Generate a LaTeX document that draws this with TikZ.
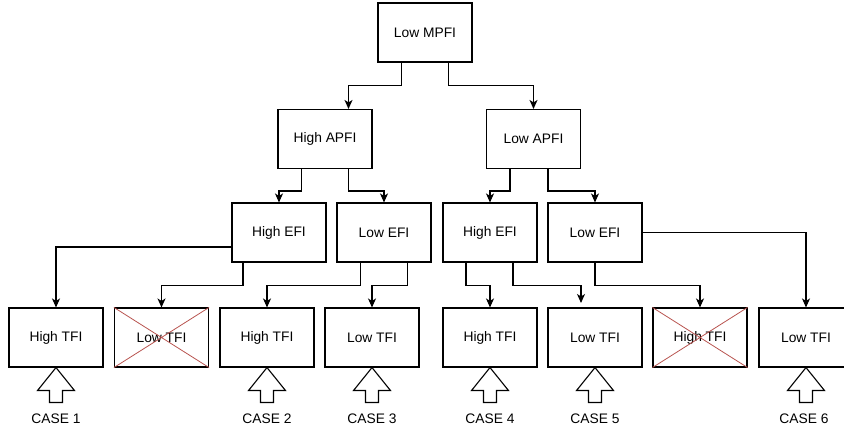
\documentclass[tikz,border=0pt]{standalone}
\usepackage{fontspec}
\setmainfont{Liberation Sans}
\usetikzlibrary{arrows.meta,calc,positioning}
\definecolor{crossred}{HTML}{B85450}

\begin{document}
\begin{tikzpicture}[x=1pt,y=-1pt,line width=1.1pt,
    >={Stealth[length=9pt,width=8pt,inset=2.5pt]},
    box/.style={rectangle,draw,minimum width=94pt,minimum height=59pt,inner sep=0pt,
      font=\fontsize{13.8}{16}\selectfont},
    caselabel/.style={font=\fontsize{13.8}{16}\selectfont}]
        \clip (0,0) rectangle (844,430);
        %%%%%%%%%%%%%%%%%%%%%%%%%%%levels%%%%%%%%%%%%%%%%%%%%%%
          \node[box] (mpfi) at (425,32.5) {Low MPFI};
          \node[box] (hapfi) at (325,139) {High APFI};
          \node[box] (lapfi) at (533.5,139) {Low APFI};
          \node[box] (hefi1) at (279,232.5) {High EFI};
          \node[box] (lefi1) at (384,232.5) {Low EFI};
          \node[box] (hefi2) at (490,232.5) {High EFI};
          \node[box] (lefi2) at (595,232.5) {Low EFI};
          \node[box] (t1) at (56,337.5) {High TFI};
          \node[box] (t2) at (161.5,337.5) {Low TFI};
          \node[box] (t3) at (267,337.5) {High TFI};
          \node[box] (t4) at (372,337.5) {Low TFI};
          \node[box] (t5) at (490,337.5) {High TFI};
          \node[box] (t6) at (595,337.5) {Low TFI};
          \node[box] (t7) at (700,337.5) {High TFI};
          \node[box] (t8) at (806,337.5) {Low TFI};
          \coordinate (lfree) at (581,303);

          %%%%%%%%%%%%%%%%%%%%%%%%%%%crossed out%%%%%%%%%%%%%%%%%%%%%%
          \foreach \t in {t2,t7}
            \draw[crossred,line width=0.8pt] (\t.north west) -- (\t.south east)
              (\t.north east) -- (\t.south west);

          %%%%%%%%%%%%%%%%%%%%%%%%%%%edges%%%%%%%%%%%%%%%%%%%%%%
          \draw[->] ([xshift=-23.5]mpfi.south) -- ++(0,23) -| ([xshift=23.5]hapfi.north);
          \draw[->] ([xshift=23.5]mpfi.south) -- ++(0,23) -| (lapfi.north);

          \draw[->] ([xshift=-23.5]hapfi.south) -- ++(0,22) -| (hefi1.north);
          \draw[->] ([xshift=23.5]hapfi.south) -- ++(0,22) -| (lefi1.north);
          \draw[->] ([xshift=-23.5]lapfi.south) -- ++(0,22) -| (hefi2.north);
          \draw[->] ([xshift=14.5]lapfi.south) -- ++(0,22) -| (lefi2.north);

          \draw[->] ([yshift=-14.5]hefi1.west) -| (t1.north);
          \draw[->] ([xshift=-36]hefi1.south) -- ++(0,23) -| (t2.north);
          \draw[->] ([xshift=-23.5]lefi1.south) -- ++(0,23) -| (t3.north);
          \draw[->] ([xshift=23.5]lefi1.south) -- ++(0,23) -| (t4.north);
          \draw[->] ([xshift=-24]hefi2.south) -- ++(0,23) -| (t5.north);
          \draw[->] ([xshift=23]hefi2.south) -- ++(0,23) -| (lfree);
          \draw[->] (lefi2.south) -- ++(0,23) -| (t7.north);
          \draw[->] (lefi2.east) -| (t8.north);

          %%%%%%%%%%%%%%%%%%%%%%%%%%%cases%%%%%%%%%%%%%%%%%%%%%%
          \foreach \t in {t1,t3,t4,t5,t6,t8}
            \draw (\t.south) -- ++(18.5,23) -- ++(-12,0) -- ++(0,12) -- ++(-13,0)
              -- ++(0,-12) -- ++(-12,0) -- cycle;
          \node[caselabel] (c1) at (56,419) {CASE 1};
          \node[caselabel] (c2) at (267,419) {CASE 2};
          \node[caselabel] (c3) at (372,419) {CASE 3};
          \node[caselabel] (c4) at (490,419) {CASE 4};
          \node[caselabel] (c5) at (595,419) {CASE 5};
          \node[caselabel] (c6) at (804,419) {CASE 6};
        \end{tikzpicture}
\end{document}
